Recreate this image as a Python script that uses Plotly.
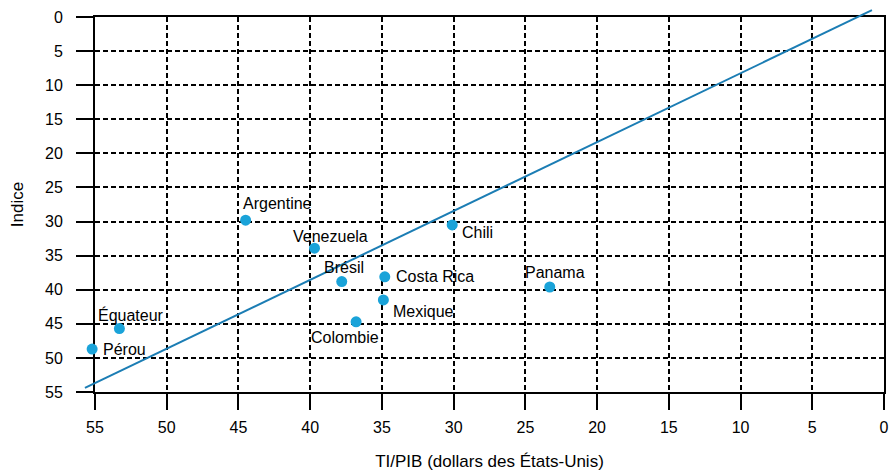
import plotly.graph_objects as go

# ---- data ----
countries = ["Argentine", "Venezuela", "Brésil", "Costa Rica", "Mexique",
             "Colombie", "Chili", "Panama", "Équateur", "Pérou"]
ti_pib = [44.5, 39.7, 37.8, 34.8, 34.9, 36.8, 30.1, 23.3, 53.3, 55.2]
indice = [29.8, 33.9, 38.8, 38.1, 41.5, 44.7, 30.5, 39.6, 45.7, 48.7]

trend_x = [55.7, 0.84]
trend_y = [54.4, -1.0]

tick_vals = [0, 5, 10, 15, 20, 25, 30, 35, 40, 45, 50, 55]
tick_text = [str(v) for v in tick_vals]

x_title = "TI/PIB (dollars des États-Unis)"
y_title = "Indice"

# ---- styles / label placement (px offsets) ----
label_style = {
    "Argentine": ("left", -5, 17),
    "Venezuela": ("left", -24, 12),
    "Brésil": ("center", 2, 14),
    "Costa Rica": ("left", 9, 0),
    "Mexique": ("left", 8, -12),
    "Colombie": ("center", -11, -16),
    "Chili": ("left", 8, -8),
    "Panama": ("center", 5, 15),
    "Équateur": ("center", 12, 14),
    "Pérou": ("left", 9, 0),
}

FONT = "Liberation Sans, Arial, sans-serif"
MARKER_COLOR = "#1aa3d9"
LINE_COLOR = "#1b7db4"

x_range = [55, 0]
y_range = [55, 0]
x_dom = [0.0185, 0.9914]
y_dom = [0.0325, 0.97]


def extend(rng, dom):
    a, b = rng
    d0, d1 = dom
    f = lambda u: a + (b - a) * (u - d0) / (d1 - d0)
    return [f(0.0), f(1.0)]


fig = go.Figure()

# invisible trace so the main (grid/axes) subplot is drawn
fig.add_trace(go.Scatter(
    x=ti_pib, y=indice, mode="markers", marker=dict(opacity=0),
    hoverinfo="skip", showlegend=False,
))

# marks live on an overlay subplot spanning the full area (so the line can overhang the frame)
fig.add_trace(go.Scatter(
    x=trend_x, y=trend_y, mode="lines",
    line=dict(color=LINE_COLOR, width=2),
    xaxis="x2", yaxis="y2", hoverinfo="skip", showlegend=False,
))

fig.add_trace(go.Scatter(
    x=ti_pib, y=indice, mode="markers",
    marker=dict(color=MARKER_COLOR, size=11),
    xaxis="x2", yaxis="y2", cliponaxis=False, showlegend=False,
))

for c, xv, yv in zip(countries, ti_pib, indice):
    anchor, dx, dy = label_style[c]
    fig.add_annotation(
        x=xv, y=yv, xref="x2", yref="y2", text=c, showarrow=False,
        xanchor=anchor, yanchor="middle", xshift=dx, yshift=dy,
        font=dict(family=FONT, size=16, color="black"),
    )

axis_common = dict(
    tickmode="array", tickvals=tick_vals, ticktext=tick_text,
    showgrid=True, gridcolor="black", gridwidth=2, griddash="5px,3px",
    zeroline=False, showline=True, linecolor="black", linewidth=2, mirror=True,
    ticks="outside", tickcolor="black", tickwidth=2, automargin=False,
    tickfont=dict(family=FONT, size=16, color="black"),
)

fig.update_layout(
    width=891, height=475,
    margin=dict(l=80, r=0, t=5, b=70),
    plot_bgcolor="rgba(0,0,0,0)", paper_bgcolor="white",
    xaxis=dict(
        range=x_range, domain=x_dom, ticklen=16, ticklabelstandoff=4,
        title=dict(text=x_title, font=dict(family=FONT, size=17, color="black"), standoff=20),
        **axis_common,
    ),
    yaxis=dict(
        range=y_range, domain=y_dom, ticklen=17, ticklabelstandoff=10,
        title=dict(text=y_title, font=dict(family=FONT, size=17, color="black"), standoff=17),
        **axis_common,
    ),
    xaxis2=dict(range=extend(x_range, x_dom), domain=[0, 1], anchor="y2",
                visible=False, showgrid=False, zeroline=False, automargin=False),
    yaxis2=dict(range=extend(y_range, y_dom), domain=[0, 1], anchor="x2",
                visible=False, showgrid=False, zeroline=False, automargin=False),
)

fig.write_html(
    "out.html",
    config={"displayModeBar": False},
    post_script="document.body.style.margin='0';document.body.style.overflow='hidden';",
)
